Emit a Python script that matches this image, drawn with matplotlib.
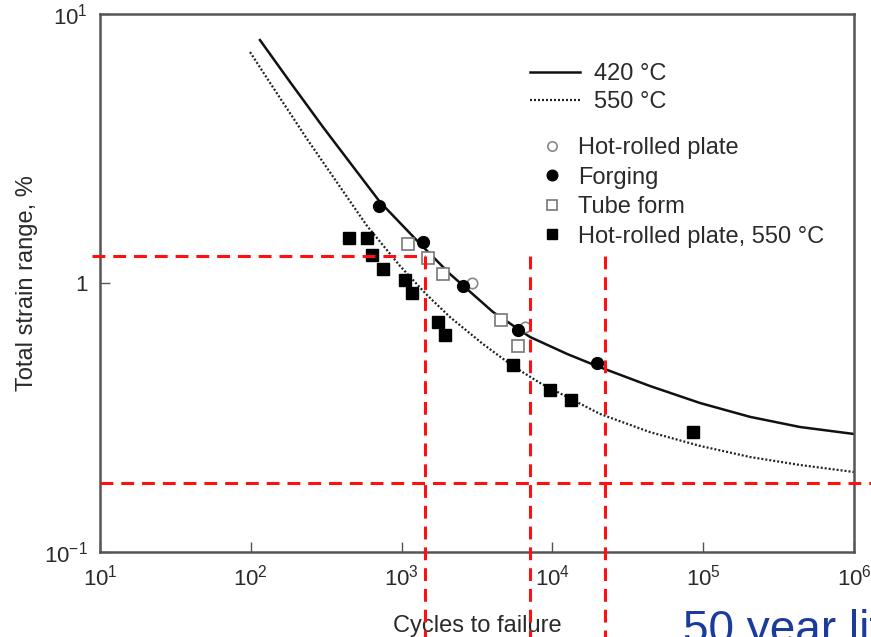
import matplotlib
matplotlib.use("Agg")
import matplotlib.pyplot as plt

plt.rcParams["font.family"] = ["Liberation Sans", "DejaVu Sans"]
plt.rcParams["mathtext.fontset"] = "custom"
plt.rcParams["mathtext.rm"] = "Liberation Sans"
plt.rcParams["mathtext.it"] = "Liberation Sans:italic"

# curves (cycles, strain range %)
n_420 = [115, 182, 301, 506, 719, 1324, 2094, 4038, 7104, 12500, 19760, 44390, 95240,
         204300, 438500, 1.0e6]
e_420 = [8.00, 5.59, 3.80, 2.59, 2.00, 1.40, 1.08, 0.780, 0.630, 0.545, 0.491, 0.414, 0.358,
         0.318, 0.2915, 0.2746]
n_550 = [98.8, 140, 236, 390, 590, 976, 1474, 2094, 3465, 5478, 8276, 20690, 44390, 95240,
         204300, 438500, 1.0e6]
e_550 = [7.22, 5.35, 3.43, 2.28, 1.63, 1.157, 0.902, 0.747, 0.593, 0.491, 0.425, 0.326, 0.279,
         0.248, 0.2255, 0.2106, 0.1983]

# test data
hot_n = [2930, 6580]
hot_e = [1.0, 0.686]
forg_n = [708, 1390, 2550, 5920, 19800]
forg_e = [1.93, 1.42, 0.977, 0.668, 0.505]
tube_n = [1100, 1500, 1880, 4560, 5920]
tube_e = [1.40, 1.24, 1.08, 0.729, 0.583]
hot550_n = [448, 590, 636, 753, 1055, 1170, 1740, 1940, 5480, 9640, 13300, 85500]
hot550_e = [1.47, 1.47, 1.27, 1.13, 1.03, 0.918, 0.717, 0.641, 0.496, 0.40, 0.367, 0.279]

# red guide lines
strain_hi = 1.26
strain_lo = 0.18
life_a = 1430
life_b = 7100
life_c = 22300

xticks = [1e1, 1e2, 1e3, 1e4, 1e5, 1e6]
xlabels = ["$10^{1}$", "$10^{2}$", "$10^{3}$", "$10^{4}$", "$10^{5}$", "$10^{6}$"]
yticks = [0.1, 1, 10]
ylabels = ["$10^{-1}$", "1", "$10^{1}$"]

txt = "#2a2a2a"
fig = plt.figure(figsize=(8.71, 6.37), dpi=100)
ax = fig.add_axes([100 / 871, 85 / 637, 754 / 871, 538 / 637])
ax.set_xscale("log")
ax.set_yscale("log")
ax.set_xlim(10, 1e6)
ax.set_ylim(0.1, 10)

l1, = ax.plot(n_420, e_420, color="#111111", lw=1.8, label="420 °C")
l2, = ax.plot(n_550, e_550, color="#222222", lw=1.6, ls=(0, (0.9, 0.9)), label="550 °C")

ms = 8.5
h1, = ax.plot(hot_n, hot_e, "o", ms=ms - 1, mfc="white", mec="#888888", mew=1.2, label="Hot-rolled plate")
h4, = ax.plot(hot550_n, hot550_e, "s", ms=ms, mfc="black", mec="black", label="Hot-rolled plate, 550 °C")
h3, = ax.plot(tube_n, tube_e, "s", ms=ms - 0.5, mfc="white", mec="#777777", mew=1.2, label="Tube form")
h2, = ax.plot(forg_n, forg_e, "o", ms=ms, mfc="black", mec="black", label="Forging")

red = dict(color="#ff1010", lw=2.2, ls=(0, (4.2, 2.6)), clip_on=False, zorder=5)
ax.plot([8.85, life_a], [strain_hi, strain_hi], **red)
ax.plot([life_a, life_a], [strain_hi, 0.045], **red)
ax.plot([life_b, life_b], [strain_hi, 0.045], **red)
ax.plot([life_c, life_c], [strain_hi, 0.045], **red)
ax.plot([10, 1.35e6], [strain_lo, strain_lo], **red)

ax.set_xticks(xticks)
ax.set_xticklabels(xlabels)
ax.set_yticks(yticks)
ax.set_yticklabels(ylabels)
ax.minorticks_off()
ax.tick_params(direction="in", length=7, width=1, colors="#555555", labelcolor=txt,
               labelsize=16, pad=9)
for s in ax.spines.values():
    s.set_color("#555555")
    s.set_linewidth(1.8)

ax.set_xlabel("Cycles to failure", fontsize=17, color=txt, labelpad=18)
ax.set_ylabel("Total strain range, %", fontsize=17, color=txt, labelpad=4)

leg1 = ax.legend(handles=[l1, l2], loc="upper left", bbox_to_anchor=(530 / 871, 1 - 63 / 637),
                 bbox_transform=fig.transFigure, frameon=False, fontsize=17, handlelength=2.1,
                 handletextpad=0.6, labelspacing=0.26, borderpad=0, borderaxespad=0,
                 labelcolor=txt)
ax.add_artist(leg1)
ax.legend(handles=[h1, h2, h3, h4], loc="upper left", bbox_to_anchor=(540 / 871, 1 - 137 / 637),
          bbox_transform=fig.transFigure, frameon=False, fontsize=17, handlelength=1.0,
          handletextpad=0.6, labelspacing=0.32, borderpad=0, borderaxespad=0,
          labelcolor=txt, markerscale=0.9)

fig.text(683 / 871, 1 - 643 / 637, "50 year life", fontsize=33, color="#1c3c9c",
         ha="left", va="baseline")

fig.savefig("out.png", dpi=100)
